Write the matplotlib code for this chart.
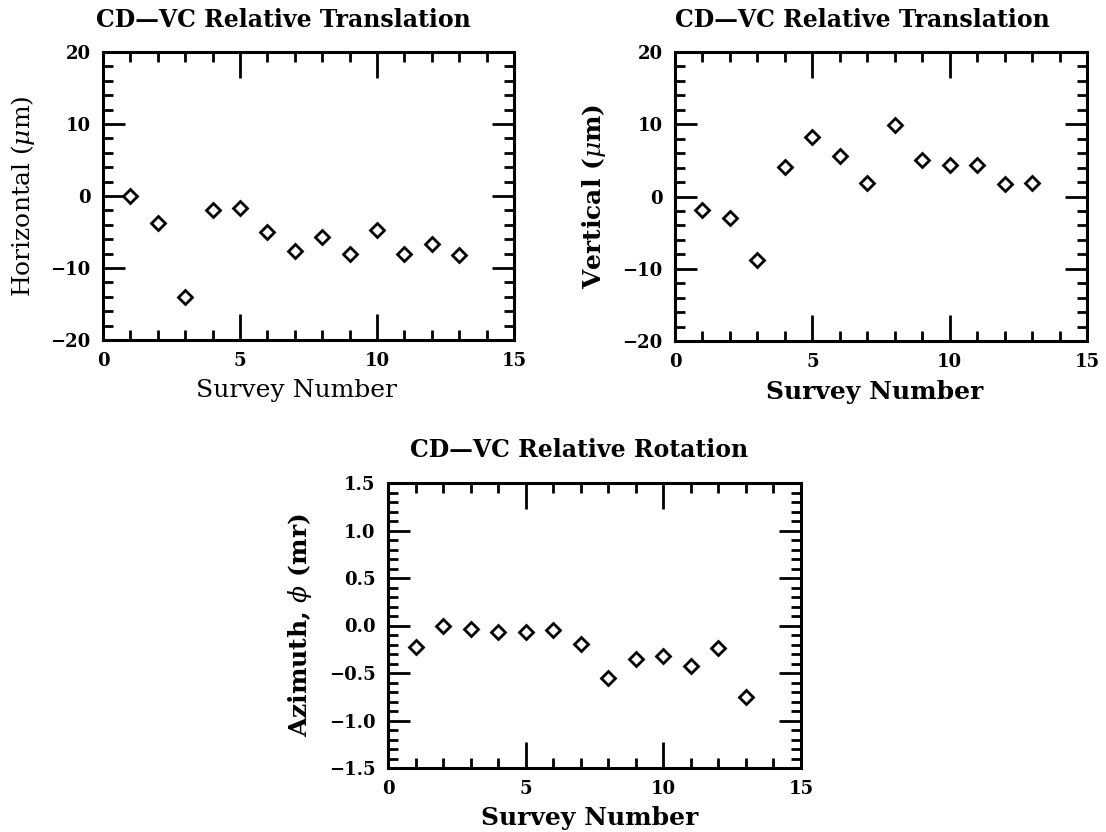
import matplotlib.pyplot as plt
from matplotlib.ticker import MultipleLocator, FuncFormatter

survey = list(range(1, 14))
horizontal = [0.0, -3.8, -14.0, -1.9, -1.7, -5.0, -7.7, -5.7, -8.1, -4.7, -8.1, -6.6, -8.2]
vertical = [-1.9, -3.0, -8.8, 4.1, 8.3, 5.6, 1.9, 9.9, 5.0, 4.4, 4.3, 1.7, 1.9]
azimuth = [-0.23, 0.0, -0.04, -0.07, -0.07, -0.05, -0.19, -0.55, -0.35, -0.32, -0.43, -0.24, -0.75]

plt.rcParams['font.family'] = 'DejaVu Serif'
plt.rcParams['mathtext.fontset'] = 'dejavuserif'

W, H = 1106, 832
fig = plt.figure(figsize=(W / 100, H / 100), dpi=100)


def add_axes(l, t, r, b):
    return fig.add_axes([l / W, 1 - b / H, (r - l) / W, (b - t) / H])


def style(ax, ylim, ymaj, ymin, xlabel, ylabel, lweight, ylx, xlx, xly):
    ax.set_xlim(0, 15)
    ax.set_ylim(*ylim)
    ax.xaxis.set_major_locator(MultipleLocator(5))
    ax.xaxis.set_minor_locator(MultipleLocator(1))
    ax.yaxis.set_major_locator(MultipleLocator(ymaj))
    ax.yaxis.set_minor_locator(MultipleLocator(ymin))
    for s in ax.spines.values():
        s.set_linewidth(2.2)
    ax.tick_params(which='both', direction='in', top=True, right=True, width=2)
    ax.tick_params(axis='x', which='major', length=19, pad=9, labelsize=13)
    ax.tick_params(axis='y', which='major', length=16, pad=9, labelsize=13)
    ax.tick_params(which='minor', length=7)
    for lab in ax.get_xticklabels() + ax.get_yticklabels():
        lab.set_fontweight('bold')
    ax.set_xlabel(xlabel, fontsize=18, fontweight=lweight, va='top')
    ax.set_ylabel(ylabel, fontsize=18, fontweight=lweight)
    ax.yaxis.set_label_coords(ylx, 0.5)
    ax.xaxis.set_label_coords(xlx, xly)


ax1 = add_axes(103, 52, 514, 340)
ax1.plot(survey, horizontal, 'D', ms=7, mfc='white', mec='black', mew=2)
style(ax1, (-20, 20), 10, 2, 'Survey Number', r'Horizontal ($\mu$m)', 'normal',
      -0.16, 0.472, -0.135)

ax2 = add_axes(675, 52, 1087, 341)
ax2.plot(survey, vertical, 'D', ms=7, mfc='white', mec='black', mew=2)
style(ax2, (-20, 20), 10, 2, 'Survey Number', r'Vertical ($\mu$m)', 'bold',
      -0.163, 0.485, -0.135)

ax3 = add_axes(388, 483, 801, 768)
ax3.plot(survey, azimuth, 'D', ms=7, mfc='white', mec='black', mew=2)
ax3.yaxis.set_major_formatter(FuncFormatter(lambda v, p: f'{v:.1f}'.replace('-', '\u2212')))
style(ax3, (-1.5, 1.5), 0.5, 0.1, 'Survey Number', r'Azimuth, $\phi$ (mr)', 'bold',
      -0.18, 0.487, -0.133)

fig.text(283 / W, 1 - 20 / H, 'CD\u2014VC Relative Translation', ha='center', va='center',
         fontsize=17, fontweight='bold')
fig.text(862 / W, 1 - 20 / H, 'CD\u2014VC Relative Translation', ha='center', va='center',
         fontsize=17, fontweight='bold')
fig.text(579 / W, 1 - 450 / H, 'CD\u2014VC Relative Rotation', ha='center', va='center',
         fontsize=17, fontweight='bold')

fig.savefig('out.png', dpi=100)
